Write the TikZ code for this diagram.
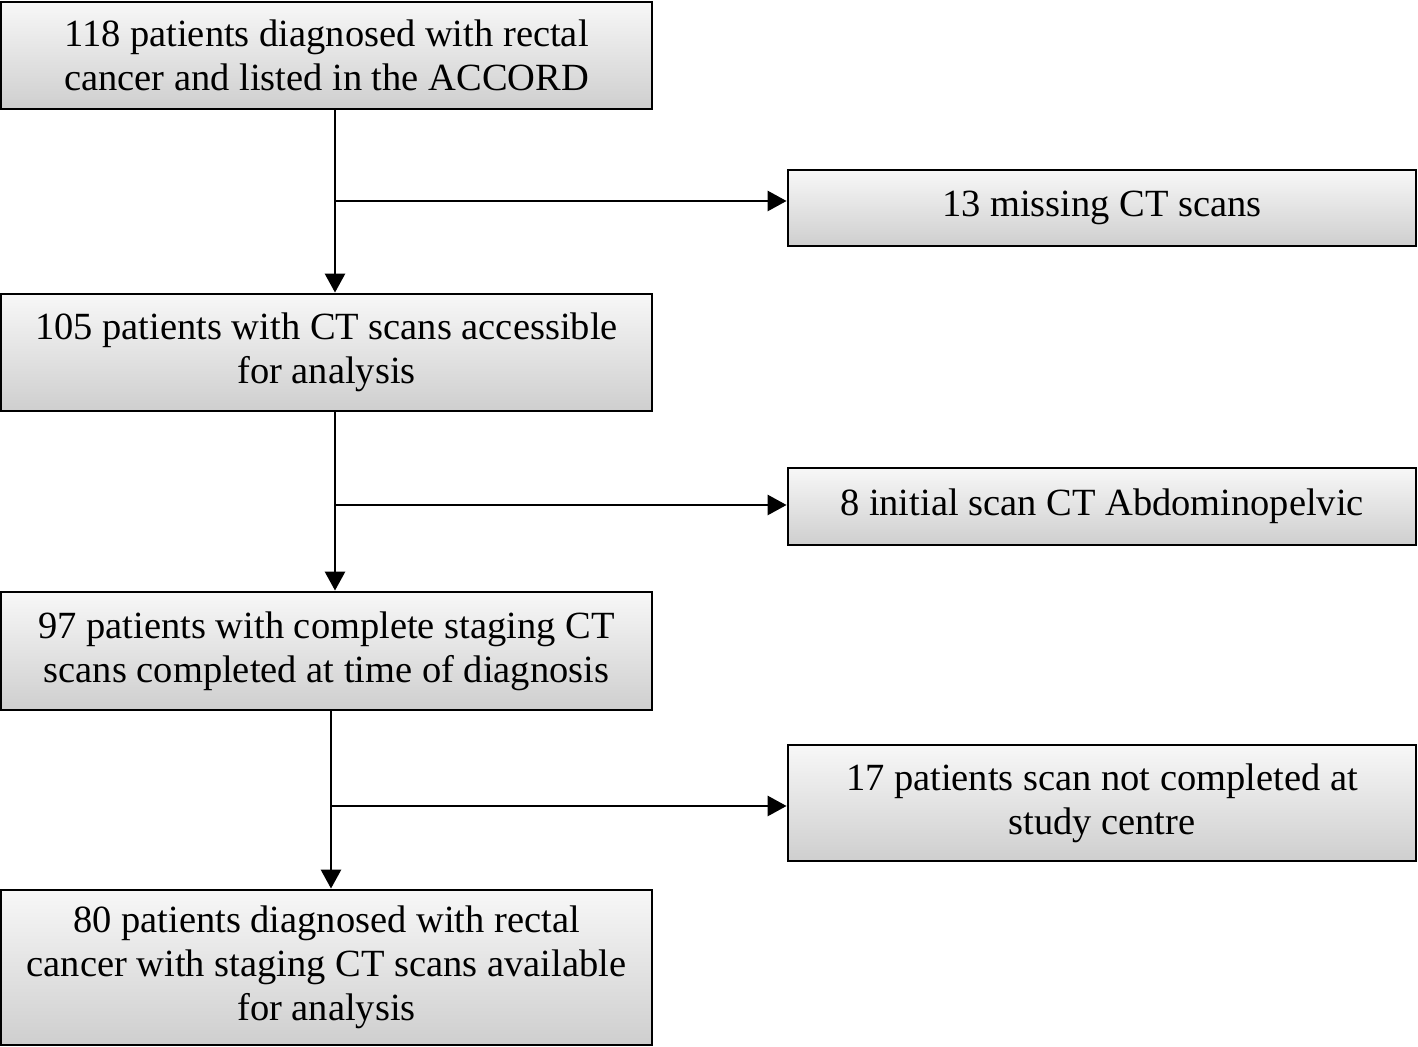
\documentclass[tikz,border=0pt]{standalone}
\usepackage{fontspec}
\setmainfont{Liberation Serif}
\usetikzlibrary{arrows.meta}
\tikzset{
  flowbox/.style={draw, rectangle, line width=1.6pt, top color=black!3, bottom color=black!19,
    align=center, font=\fontsize{21.9}{25}\selectfont, minimum width=13.02cm, inner sep=0pt},
  sidebox/.style={flowbox, minimum width=12.56cm},
  flowarrow/.style={line width=1.6pt, -{Triangle[length=0.38cm, width=0.4cm]}}
}
\begin{document}
\begin{tikzpicture}
\useasboundingbox (0,0) rectangle (28.36,-20.94);
\node at (6.53,-1.11) [flowbox, minimum height=2.14cm] (all) {118 patients diagnosed with rectal\\cancer and listed in the ACCORD};
\node at (22.04,-4.16) [sidebox, minimum height=1.52cm] (missing) {13 missing CT scans};
\node at (6.53,-7.05) [flowbox, minimum height=2.34cm] (access) {105 patients with CT scans accessible\\for analysis};
\node at (22.04,-10.13) [sidebox, minimum height=1.54cm] (abdo) {8 initial scan CT Abdominopelvic};
\node at (6.53,-13.02) [flowbox, minimum height=2.36cm] (staged) {97 patients with complete staging CT\\scans completed at time of diagnosis};
\node at (22.04,-16.06) [sidebox, minimum height=2.32cm] (elsewhere) {17 patients scan not completed at\\study centre};
\node at (6.53,-19.35) [flowbox, minimum height=3.10cm] (final) {80 patients diagnosed with rectal\\cancer with staging CT scans available\\for analysis};
% branch points
\coordinate (j1) at (6.70,-4.02);
\coordinate (j2) at (6.70,-10.10);
\coordinate (j3) at (6.62,-16.12);
\draw[flowarrow] (j1 |- all.south) -- (j1 |- access.north);
\draw[flowarrow] (j1) -- (missing.west |- j1);
\draw[flowarrow] (j2 |- access.south) -- (j2 |- staged.north);
\draw[flowarrow] (j2) -- (abdo.west |- j2);
\draw[flowarrow] (j3 |- staged.south) -- (j3 |- final.north);
\draw[flowarrow] (j3) -- (elsewhere.west |- j3);
\end{tikzpicture}
\end{document}
